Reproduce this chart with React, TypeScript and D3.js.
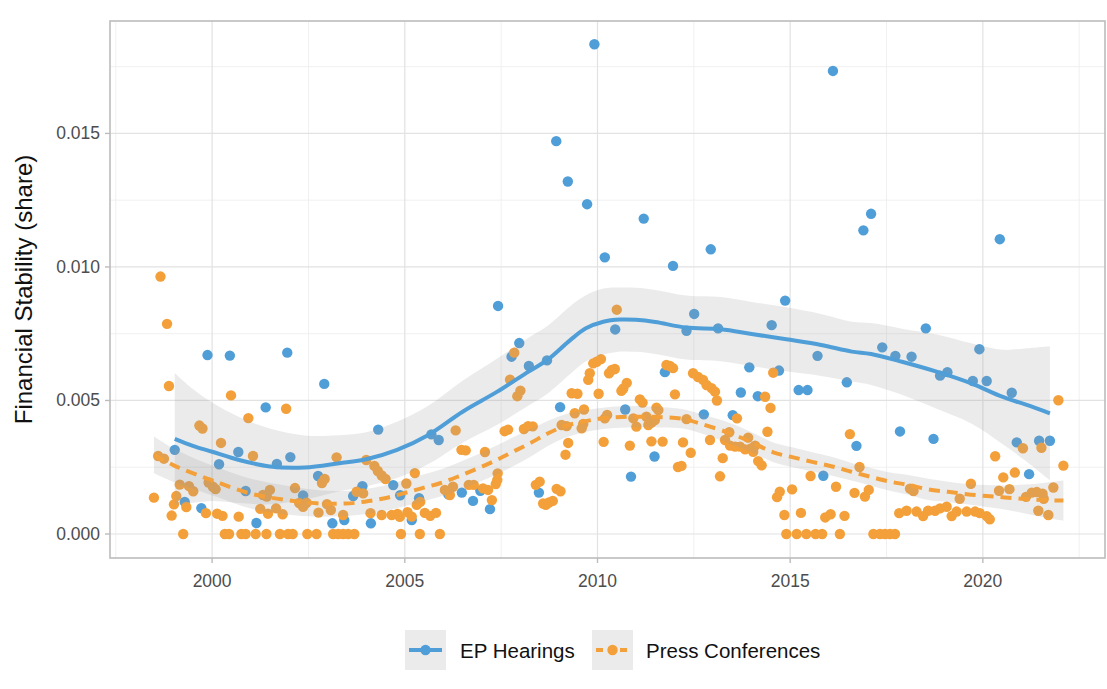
import React from "react";
import * as d3 from "d3";

// All shares are stored in thousandths (value 3.15 = share 0.00315)
const xTicks = [2000, 2005, 2010, 2015, 2020];
const xMinorTicks = [1997.5, 2002.5, 2007.5, 2012.5, 2017.5, 2022.5];
const yTicks = [0, 5, 10, 15];
const yTickLabels = ["0.000", "0.005", "0.010", "0.015"];
const yMinorTicks = [2.5, 7.5, 12.5, 17.5];

const seriesNames = ["EP Hearings", "Press Conferences"];
const seriesColors = ["#4f9ed8", "#f4a03a"];

const epHearings: [number, number][] = [
  [1999.03, 3.15], [1999.29, 1.2], [1999.72, 0.97], [1999.88, 6.7], [2000.18, 2.61], [2000.46, 6.68],
  [2000.68, 3.07], [2000.87, 1.61], [2001.15, 0.41], [2001.39, 4.74], [2001.68, 2.62], [2001.95, 6.79],
  [2002.03, 2.88], [2002.36, 1.44], [2002.75, 2.17], [2002.91, 5.62], [2003.12, 0.4], [2003.43, 0.52],
  [2003.66, 1.42], [2003.9, 1.79], [2004.12, 0.4], [2004.31, 3.91], [2004.7, 1.83], [2004.88, 1.45],
  [2005.18, 0.52], [2005.37, 1.34], [2005.69, 3.73], [2005.88, 3.52], [2006.13, 1.49], [2006.48, 1.55],
  [2006.77, 1.24], [2006.96, 1.62], [2007.21, 0.93], [2007.42, 8.54], [2007.77, 6.64], [2007.97, 7.15],
  [2008.22, 6.29], [2008.48, 1.55], [2008.69, 6.5], [2008.93, 14.71], [2009.03, 4.75], [2009.23, 13.2],
  [2009.73, 12.35], [2009.92, 18.34], [2010.19, 10.36], [2010.46, 7.66], [2010.72, 4.66], [2010.87, 2.15],
  [2011.2, 11.81], [2011.48, 2.9], [2011.75, 6.06], [2011.96, 10.04], [2012.31, 7.61], [2012.51, 8.24],
  [2012.76, 4.48], [2012.94, 10.66], [2013.13, 7.7], [2013.51, 4.45], [2013.72, 5.3], [2013.94, 6.24],
  [2014.16, 5.16], [2014.52, 7.82], [2014.71, 6.12], [2014.87, 8.74], [2015.22, 5.39], [2015.45, 5.39],
  [2015.71, 6.67], [2015.86, 2.18], [2016.11, 17.34], [2016.47, 5.68], [2016.72, 3.3], [2016.9, 11.37],
  [2017.1, 11.99], [2017.39, 6.99], [2017.73, 6.67], [2017.85, 3.84], [2018.15, 6.64], [2018.52, 7.7],
  [2018.72, 3.56], [2018.89, 5.93], [2019.08, 6.06], [2019.74, 5.73], [2019.91, 6.92], [2020.1, 5.73],
  [2020.44, 11.04], [2020.75, 5.29], [2020.88, 3.43], [2021.2, 2.24], [2021.46, 3.49], [2021.74, 3.49],
];

const pressConferences: [number, number][] = [
  [1998.49, 1.36], [1998.6, 2.92], [1998.75, 2.82], [1998.66, 9.64], [1998.83, 7.87], [1998.88, 5.54],
  [1998.95, 0.69], [1999.01, 1.11], [1999.07, 1.42], [1999.16, 1.85], [1999.25, 0], [1999.33, 1.01],
  [1999.4, 1.79], [1999.51, 1.6], [1999.67, 4.06], [1999.75, 3.95], [1999.84, 0.78], [1999.91, 1.93],
  [2000.02, 1.77], [2000.09, 1.68], [2000.13, 0.76], [2000.23, 3.41], [2000.27, 0.68], [2000.49, 5.19],
  [2000.69, 0.65], [2000.94, 4.34], [2001.06, 2.92], [2001.25, 0.94], [2001.32, 1.46], [2001.42, 1.4],
  [2001.45, 0.76], [2001.5, 1.65], [2001.66, 0.96], [2001.83, 0.74], [2001.92, 4.69], [2002.15, 1.72],
  [2002.26, 1.16], [2002.36, 1.02], [2002.45, 1.17], [2002.76, 0.8], [2002.85, 1.91], [2002.92, 2.06],
  [2002.98, 1.12], [2003.08, 0.9], [2003.23, 2.87],
  [2000.33, 0], [2000.44, 0], [2000.76, 0], [2000.87, 0], [2001.13, 0], [2001.41, 0], [2001.76, 0],
  [2001.97, 0], [2002.09, 0], [2002.47, 0], [2002.71, 0], [2003.14, 0], [2003.27, 0], [2003.4, 0],
  [2003.53, 0], [2003.69, 0],
  [2003.4, 0.71], [2003.75, 1.58], [2003.92, 1.52], [2004.0, 2.77], [2004.11, 0.78], [2004.21, 2.55],
  [2004.3, 2.36], [2004.4, 0.71], [2004.4, 2.19], [2004.5, 2.06], [2004.66, 0.71], [2004.81, 0.75],
  [2004.87, 0.64], [2005.04, 1.89], [2005.07, 0.82], [2005.18, 0.65], [2005.26, 2.28], [2005.31, 1.09],
  [2005.4, 1.2], [2005.52, 0.79], [2005.66, 0.68], [2005.81, 0.79], [2006.04, 1.65], [2006.17, 1.46],
  [2006.25, 1.77], [2006.32, 3.88], [2006.47, 3.15], [2006.58, 3.13], [2006.66, 1.84], [2006.79, 1.84],
  [2007.03, 1.71], [2007.08, 3.07], [2007.16, 1.65], [2007.26, 1.27], [2007.36, 1.87], [2007.4, 2.02],
  [2007.41, 2.27], [2007.59, 3.85], [2007.68, 3.91], [2007.73, 5.78], [2007.84, 6.79], [2007.92, 5.16],
  [2008.0, 5.37], [2008.09, 3.93], [2008.2, 4.04], [2008.32, 4.03],
  [2004.9, 0], [2005.39, 0], [2005.91, 0],
  [2008.4, 1.84], [2008.5, 1.96], [2008.59, 1.14], [2008.66, 1.09], [2008.74, 1.18], [2008.84, 1.24],
  [2008.94, 1.69], [2009.04, 1.6], [2009.07, 4.08], [2009.2, 4.04], [2009.24, 3.41], [2009.17, 2.97],
  [2009.33, 5.27], [2009.48, 5.25], [2009.41, 4.52], [2009.65, 4.66], [2009.63, 4.12], [2009.59, 3.96],
  [2009.76, 5.77], [2009.8, 6.02], [2009.89, 6.39], [2009.98, 6.45], [2010.09, 6.55], [2010.03, 5.25],
  [2010.16, 3.45], [2010.19, 4.33], [2010.25, 4.46], [2010.3, 6.02], [2010.37, 6.14], [2010.45, 6.18],
  [2010.5, 8.4], [2010.62, 5.36], [2010.67, 5.45], [2010.76, 5.66], [2010.84, 3.31], [2010.93, 4.33],
  [2011.01, 4.02], [2011.1, 5.04], [2011.17, 4.92], [2011.27, 4.39], [2011.32, 4.08], [2011.4, 4.17],
  [2011.49, 4.27], [2011.4, 3.47], [2011.53, 4.73], [2011.58, 4.64], [2011.69, 3.46], [2011.79, 6.33],
  [2011.88, 6.29], [2011.96, 6.21], [2012.01, 5.23], [2012.09, 2.51], [2012.18, 2.55], [2012.22, 3.43],
  [2012.31, 4.3], [2012.42, 3.04], [2012.48, 6.02], [2012.61, 5.88], [2012.74, 5.77], [2012.83, 5.58],
  [2012.96, 5.46], [2013.05, 5.33], [2013.1, 5.0], [2012.92, 3.52], [2013.18, 2.16], [2013.25, 2.84],
  [2013.31, 3.52], [2013.42, 3.81], [2013.44, 3.31], [2013.57, 3.27], [2013.7, 3.27], [2013.62, 4.33],
  [2013.83, 3.17], [2013.91, 3.61], [2013.98, 3.2], [2014.04, 3.08], [2014.09, 3.31], [2014.17, 2.73],
  [2014.26, 2.57], [2014.35, 5.14], [2014.49, 4.72], [2014.41, 3.83], [2014.56, 6.04], [2014.66, 1.38],
  [2014.73, 1.58], [2015.05, 1.67], [2014.85, 0.71], [2015.28, 0.79], [2015.53, 2.17], [2015.91, 0.62],
  [2016.05, 0.74], [2016.19, 1.77], [2016.41, 0.68], [2016.55, 3.74], [2016.67, 1.54], [2016.8, 2.51],
  [2016.94, 1.4], [2017.04, 1.65], [2017.83, 0.78],
  [2014.9, 0], [2015.17, 0], [2015.42, 0], [2015.66, 0], [2015.83, 0], [2016.29, 0], [2017.16, 0],
  [2017.33, 0], [2017.46, 0], [2017.59, 0], [2017.72, 0],
  [2018.11, 1.7], [2018.2, 1.61], [2018.02, 0.87], [2018.28, 0.84], [2018.45, 0.67], [2018.58, 0.87],
  [2018.76, 0.87], [2018.89, 0.96], [2019.06, 1.02], [2019.19, 0.67], [2019.32, 0.84], [2019.58, 0.84],
  [2019.8, 0.84], [2019.92, 0.78], [2020.1, 0.67], [2020.18, 0.55], [2019.4, 1.32], [2019.69, 1.88],
  [2020.32, 2.91], [2020.42, 1.62], [2020.53, 2.12], [2020.69, 1.68], [2020.83, 2.3], [2021.04, 3.21],
  [2021.12, 1.39], [2021.27, 1.55], [2021.4, 1.57], [2021.44, 0.87], [2021.52, 3.23], [2021.55, 1.51],
  [2021.58, 1.32], [2021.7, 0.71], [2021.83, 1.74], [2021.96, 5.01], [2022.09, 2.56],
];

// LOESS fits and confidence bands
const epFitYears = [1999.03, 1999.5, 2000.0, 2000.7, 2001.5, 2002.4, 2003.3, 2004.0, 2004.8, 2005.6, 2006.5,
  2007.4, 2008.2, 2008.7, 2009.3, 2009.7, 2010.15, 2010.6, 2011.0, 2011.5, 2012.3, 2013.2, 2014.0, 2014.9,
  2015.8, 2016.6, 2017.1, 2017.9, 2018.8, 2019.7, 2020.5, 2021.1, 2021.74];
const epFit = [3.56, 3.3, 3.08, 2.77, 2.53, 2.49, 2.65, 2.8, 3.15, 3.7, 4.58, 5.33, 6.07, 6.52, 7.27, 7.7, 7.95,
  8.03, 8.02, 7.94, 7.73, 7.67, 7.49, 7.29, 7.08, 6.83, 6.74, 6.45, 6.08, 5.64, 5.14, 4.85, 4.52];
const epHigh = [6.03, 5.43, 4.92, 4.38, 3.95, 3.69, 3.7, 3.81, 4.2, 4.79, 5.74, 6.57, 7.34, 7.79, 8.54, 8.94, 9.19,
  9.23, 9.22, 9.14, 8.93, 8.87, 8.69, 8.49, 8.24, 7.95, 7.9, 7.69, 7.47, 7.14, 6.9, 6.95, 7.03];
const epLow = [1.09, 1.17, 1.24, 1.16, 1.11, 1.29, 1.6, 1.79, 2.1, 2.61, 3.42, 4.09, 4.8, 5.25, 6.0, 6.46, 6.71,
  6.83, 6.82, 6.74, 6.53, 6.47, 6.29, 6.09, 5.92, 5.71, 5.58, 5.21, 4.69, 4.14, 3.38, 2.75, 2.01];

const pcFitYears = [1998.49, 1998.99, 1999.51, 2000.11, 2000.98, 2001.93, 2002.71, 2003.44, 2003.96, 2004.48,
  2004.96, 2005.43, 2005.91, 2006.38, 2006.9, 2007.38, 2007.81, 2008.25, 2008.72, 2009.11, 2009.63, 2010.15,
  2010.76, 2011.27, 2011.71, 2012.22, 2012.7, 2013.44, 2013.96, 2014.56, 2015.08, 2015.6, 2016.12, 2016.59,
  2017.07, 2017.59, 2018.06, 2018.58, 2019.1, 2019.58, 2020.1, 2020.57, 2021.09, 2021.57, 2022.09];
const pcFit = [2.96, 2.58, 2.27, 1.95, 1.52, 1.27, 1.15, 1.14, 1.21, 1.34, 1.52, 1.71, 1.9, 2.15, 2.46, 2.77, 3.08,
  3.4, 3.77, 4.02, 4.21, 4.33, 4.39, 4.39, 4.37, 4.31, 4.12, 3.77, 3.46, 3.06, 2.87, 2.69, 2.52, 2.33, 2.15, 1.96,
  1.84, 1.67, 1.58, 1.49, 1.42, 1.37, 1.31, 1.27, 1.25];
const pcHigh = [3.65, 3.21, 2.85, 2.51, 2.08, 1.81, 1.65, 1.61, 1.68, 1.82, 2.01, 2.21, 2.41, 2.67, 2.99, 3.31, 3.62,
  3.92, 4.24, 4.46, 4.62, 4.73, 4.79, 4.78, 4.75, 4.67, 4.48, 4.16, 3.84, 3.43, 3.24, 3.05, 2.87, 2.66, 2.48, 2.3,
  2.21, 2.07, 1.96, 1.87, 1.83, 1.82, 1.85, 1.91, 2.0];
const pcLow = [2.27, 1.95, 1.69, 1.39, 0.96, 0.73, 0.65, 0.67, 0.74, 0.86, 1.03, 1.21, 1.39, 1.63, 1.93, 2.23, 2.54,
  2.88, 3.3, 3.58, 3.8, 3.93, 3.99, 4.0, 3.99, 3.95, 3.76, 3.38, 3.08, 2.69, 2.5, 2.33, 2.17, 2.0, 1.82, 1.62, 1.47,
  1.27, 1.2, 1.11, 1.01, 0.92, 0.77, 0.63, 0.5];

const FONT = "'Liberation Sans', Arial, Helvetica, sans-serif";

export default function App() {
  const W = 1107;
  const H = 689;
  const left = 110, right = 1105, top = 21, bottom = 558;
  const x = d3.scaleLinear().domain([1997.35, 2023.17]).range([left, right]);
  const y = d3.scaleLinear().domain([-0.899, 19.21]).range([bottom, top]);

  const curve = d3.curveCatmullRom.alpha(0.5);

  const band = (years: number[], lo: number[], hi: number[]) =>
    d3
      .area<number>()
      .x((d) => x(d))
      .y0((_, i) => y(lo[i]))
      .y1((_, i) => y(hi[i]))
      .curve(curve)(years) || "";
  const fitLine = (years: number[], fit: number[]) =>
    d3
      .line<number>()
      .x((d) => x(d))
      .y((_, i) => y(fit[i]))
      .curve(curve)(years) || "";

  const r = 5.2;

  return (
    <div style={{ position: "fixed", left: 0, top: 0, width: W, height: H, background: "#fff" }}>
      <svg width={W} height={H} style={{ display: "block" }} fontFamily={FONT}>
        <rect x={0} y={0} width={W} height={H} fill="#fff" />
        {/* minor grid */}
        {xMinorTicks.map((t) => (
          <line key={"xm" + t} x1={x(t)} x2={x(t)} y1={top} y2={bottom} stroke="#eeeeee" strokeWidth={0.9} />
        ))}
        {yMinorTicks.map((t) => (
          <line key={"ym" + t} x1={left} x2={right} y1={y(t)} y2={y(t)} stroke="#eeeeee" strokeWidth={0.9} />
        ))}
        {/* major grid */}
        {xTicks.map((t) => (
          <line key={"xg" + t} x1={x(t)} x2={x(t)} y1={top} y2={bottom} stroke="#e2e2e2" strokeWidth={1.2} />
        ))}
        {yTicks.map((t) => (
          <line key={"yg" + t} x1={left} x2={right} y1={y(t)} y2={y(t)} stroke="#e2e2e2" strokeWidth={1.2} />
        ))}

        {/* points */}
        {epHearings.map((d, i) => (
          <circle key={"ep" + i} cx={x(d[0])} cy={y(d[1])} r={r} fill={seriesColors[0]} />
        ))}
        {pressConferences.map((d, i) => (
          <circle key={"pc" + i} cx={x(d[0])} cy={y(d[1])} r={r} fill={seriesColors[1]} />
        ))}

        {/* smooths */}
        <path d={band(epFitYears, epLow, epHigh)} fill="#999999" fillOpacity={0.2} />
        <path d={fitLine(epFitYears, epFit)} fill="none" stroke={seriesColors[0]} strokeWidth={4} />
        <path d={band(pcFitYears, pcLow, pcHigh)} fill="#999999" fillOpacity={0.2} />
        <path
          d={fitLine(pcFitYears, pcFit)}
          fill="none"
          stroke={seriesColors[1]}
          strokeWidth={4}
          strokeDasharray="11 7"
        />

        {/* panel border */}
        <rect x={left} y={top} width={right - left} height={bottom - top} fill="none" stroke="#bcbcbc" strokeWidth={1.6} />

        {/* axes ticks and labels */}
        {xTicks.map((t) => (
          <g key={"xt" + t}>
            <line x1={x(t)} x2={x(t)} y1={bottom} y2={bottom + 5} stroke="#bcbcbc" strokeWidth={1.4} />
            <text x={x(t)} y={bottom + 29} textAnchor="middle" fontSize={17.5} fill="#4d4d4d">
              {t}
            </text>
          </g>
        ))}
        {yTicks.map((t, i) => (
          <g key={"yt" + t}>
            <line x1={left - 5} x2={left} y1={y(t)} y2={y(t)} stroke="#bcbcbc" strokeWidth={1.4} />
            <text x={left - 10} y={y(t) + 6} textAnchor="end" fontSize={17.5} fill="#4d4d4d">
              {yTickLabels[i]}
            </text>
          </g>
        ))}
        <text
          transform={`translate(32, ${(top + bottom) / 2}) rotate(-90)`}
          textAnchor="middle"
          fontSize={24}
          fill="#111"
        >
          Financial Stability (share)
        </text>

        {/* legend */}
        <g>
          <rect x={405} y={630} width={41} height={40} fill="#ebebeb" />
          <line x1={409} x2={442} y1={650} y2={650} stroke={seriesColors[0]} strokeWidth={4} />
          <circle cx={425.5} cy={650} r={r} fill={seriesColors[0]} />
          <text x={460} y={657.5} fontSize={20.5} fill="#111">
            {seriesNames[0]}
          </text>
          <rect x={592} y={630} width={41} height={40} fill="#ebebeb" />
          <line x1={596} x2={629} y1={650} y2={650} stroke={seriesColors[1]} strokeWidth={4} strokeDasharray="7 5" />
          <circle cx={612.5} cy={650} r={r} fill={seriesColors[1]} />
          <text x={646} y={657.5} fontSize={20.5} fill="#111">
            {seriesNames[1]}
          </text>
        </g>
      </svg>
    </div>
  );
}
